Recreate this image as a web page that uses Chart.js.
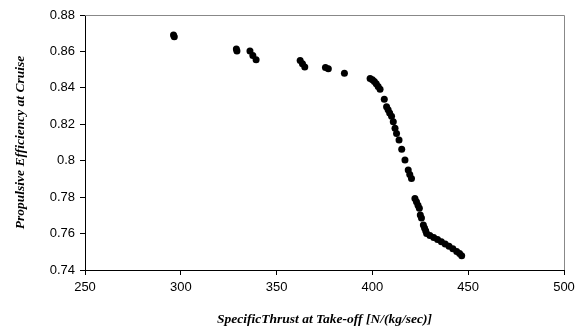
<!DOCTYPE html>
<html>
<head>
<meta charset="utf-8">
<script src="https://cdn.jsdelivr.net/npm/chart.js@4/dist/chart.umd.min.js"></script>
<style>
  body { margin: 0; background: #fff; }
  canvas { display: block; }
</style>
</head>
<body>
<canvas id="effChart" width="583" height="329"></canvas>
<script>
// values
const specificThrust = [
    296.2, 296.6, 329.0, 329.3, 336.1, 337.6, 339.3,
    362.3, 363.5, 364.7, 375.5, 377.0, 385.4,
    398.8, 400.0, 401.0, 402.0, 403.0, 404.0,
    406.2, 407.4, 408.2, 409.0, 410.0, 410.9, 411.8, 412.6, 413.9, 415.3, 417.0,
    418.7, 419.5, 420.4,
    422.2, 423.0, 423.8, 424.5, 425.0, 425.6,
    426.6, 427.2, 427.8, 428.3, 430.0, 432.0, 434.0, 436.0, 438.0, 440.0, 442.0, 444.0, 445.5, 446.6
];
const propEfficiency = [
    0.8690, 0.8681, 0.8614, 0.8602, 0.8602, 0.8578, 0.8555,
    0.8550, 0.8532, 0.8515, 0.8512, 0.8505, 0.8480,
    0.8452, 0.8445, 0.8435, 0.8422, 0.8408, 0.8392,
    0.8337, 0.8296, 0.8280, 0.8262, 0.8244, 0.8214, 0.8178, 0.8150, 0.8114, 0.8063, 0.8004,
    0.7949, 0.7925, 0.7903,
    0.7793, 0.7775, 0.7755, 0.7739, 0.7702, 0.7686,
    0.7647, 0.7630, 0.7615, 0.7601, 0.7590, 0.7579, 0.7567, 0.7555, 0.7543, 0.7530, 0.7516, 0.7502, 0.7490, 0.7478
];

const xTitle = "SpecificThrust at Take-off [N/(kg/sec)]";
const yTitle = "Propulsive Efficiency at Cruise";

const points = specificThrust.map((x, i) => ({x: x, y: propEfficiency[i]}));

// grey frame on top and right of plot area
const frame = {
    id: "frame",
    afterDraw(chart) {
        const {ctx, chartArea: a} = chart;
        ctx.save();
        ctx.strokeStyle = "#888";
        ctx.lineWidth = 1;
        ctx.beginPath();
        ctx.moveTo(a.left, a.top + 0.5);
        ctx.lineTo(a.right + 0.5, a.top + 0.5);
        ctx.lineTo(a.right + 0.5, a.bottom);
        ctx.stroke();
        ctx.restore();
    }
};

const tickFont = {family: "'Liberation Sans', Arial, sans-serif", size: 13};
const titleFont = {family: "'Liberation Serif', 'Times New Roman', serif", size: 13.5, weight: "bold", style: "italic"};

new Chart(document.getElementById("effChart").getContext("2d"), {
    type: "scatter",
    data: {
        datasets: [{
            data: points,
            backgroundColor: "#000",
            borderWidth: 0,
            pointRadius: 3.5,
            pointHoverRadius: 3.5
        }]
    },
    plugins: [frame],
    options: {
        responsive: false,
        animation: false,
        layout: {padding: {top: 15, right: 19, bottom: 0, left: 0}},
        plugins: {legend: {display: false}, tooltip: {enabled: false}},
        scales: {
            x: {
                type: "linear", min: 250, max: 500,
                afterFit: s => { s.height = 59; },
                ticks: {stepSize: 50, color: "#000", font: tickFont, padding: 5, maxRotation: 0},
                grid: {drawOnChartArea: false, tickLength: 5, color: "#000"},
                border: {color: "#000"},
                title: {display: true, text: xTitle, color: "#000", font: titleFont, padding: {top: 0, bottom: 1}}
            },
            y: {
                type: "linear", min: 0.74, max: 0.88,
                afterFit: s => { s.width = 85; },
                ticks: {stepSize: 0.02, color: "#000", font: tickFont, padding: 5,
                        callback: v => String(+v.toFixed(2))},
                grid: {drawOnChartArea: false, tickLength: 5, color: "#000"},
                border: {color: "#000"},
                title: {display: true, text: yTitle, color: "#000", font: titleFont, padding: {top: 12, bottom: 0}}
            }
        }
    }
});
</script>
</body>
</html>
